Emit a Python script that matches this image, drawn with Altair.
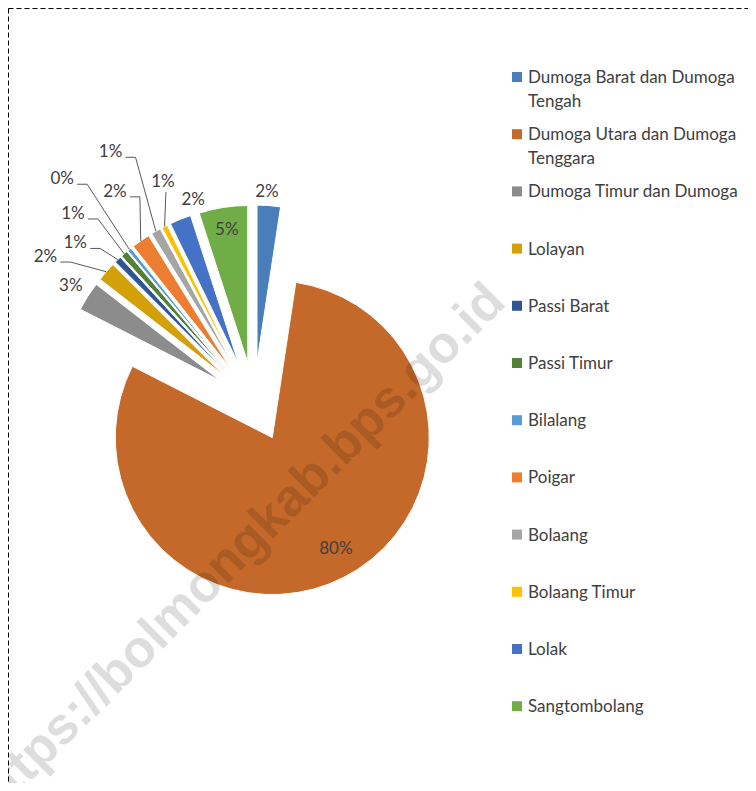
import altair as alt
import pandas as pd

# ---------------- data ----------------
names = ["Dumoga Barat dan Dumoga Tengah", "Dumoga Utara dan Dumoga Tenggara",
         "Dumoga Timur dan Dumoga", "Lolayan", "Passi Barat", "Passi Timur",
         "Bilalang", "Poigar", "Bolaang", "Bolaang Timur", "Lolak", "Sangtombolang"]
values = [2.4, 80.1, 3.0, 2.0, 0.7, 0.7, 0.4, 1.9, 1.0, 0.6, 2.2, 5.0]
legend_labels = ["Dumoga Barat dan Dumoga\nTengah", "Dumoga Utara dan Dumoga\nTenggara",
                 "Dumoga Timur dan Dumoga", "Lolayan", "Passi Barat", "Passi Timur",
                 "Bilalang", "Poigar", "Bolaang", "Bolaang Timur", "Lolak", "Sangtombolang"]
colors = ["#4A7EBB", "#C5692A", "#8C8C8C", "#D4A007", "#2F5597", "#548235",
          "#5B9BD5", "#ED7D31", "#A5A5A5", "#FFC000", "#4472C4", "#70AD47"]

# label layout (distance from pie centre, angular nudge in degrees, leader style)
label_dist = [210, 168, 217, 254, 239, 261, 294, 252, 288, 238, 211, 174]
label_nudge = [-0.8, -2.0, 0.0, -6.6, -4.7, -2.7, -1.5, 1.6, 0.0, 4.5, 5.2, 0.0]
leader = ["none", "none", "none", "side", "side", "side", "side", "side", "side",
          "below", "none", "none"]

# ---------------- layout ----------------
W, H = 740, 775
CX, CY = 246, 394     # pie centre
R = 157               # pie radius
EXPLODE = 40          # explosion distance
FONT = "Lato"
TXT = "#404040"

df = pd.DataFrame({"idx": list(range(len(names))), "name": names, "value": values,
                   "ldist": label_dist, "lnudge": label_nudge, "leader": leader})

base = (alt.Chart(df)
        .transform_joinaggregate(total="sum(value)")
        .transform_window(cum="sum(value)", sort=[{"field": "idx"}], frame=[None, 0])
        .transform_calculate(
            t0="(datum.cum - datum.value) / datum.total * 2 * PI",
            t1="datum.cum / datum.total * 2 * PI",
            pct="datum.value / datum.total")
        .transform_calculate(mid="(datum.t0 + datum.t1) / 2")
        .transform_calculate(
            cx=f"{CX} + {EXPLODE} * sin(datum.mid)",
            cy=f"{CY} - {EXPLODE} * cos(datum.mid)",
            la="datum.mid + datum.lnudge * PI / 180")
        .transform_calculate(
            px=f"datum.cx + {R} * sin(datum.mid)",
            py=f"datum.cy - {R} * cos(datum.mid)",
            lx=f"{CX} + datum.ldist * sin(datum.la)",
            ly=f"{CY} - datum.ldist * cos(datum.la)")
        .transform_calculate(
            sx="datum.leader == 'below' ? datum.lx + 3 : datum.lx + 15",
            sy="datum.leader == 'below' ? datum.ly + 10 : datum.ly + 5",
            ex="datum.leader == 'below' ? datum.lx + 3 : datum.lx + 25"))

color_scale = alt.Scale(domain=names, range=colors)

pie = base.mark_arc(outerRadius=R, stroke="white", strokeWidth=1).encode(
    theta=alt.Theta("t0:Q", scale=None, stack=None),
    theta2="t1:Q",
    x=alt.X("cx:Q", scale=None, axis=None),
    y=alt.Y("cy:Q", scale=None, axis=None),
    color=alt.Color("name:N", scale=color_scale, legend=None),
    order=alt.Order("idx:Q"),
)

labels = base.mark_text(font=FONT, fontSize=17, color=TXT, align="center",
                        baseline="middle").encode(
    x=alt.X("lx:Q", scale=None, axis=None),
    y=alt.Y("ly:Q", scale=None, axis=None),
    text=alt.Text("pct:Q", format=".0%"),
)

lead1 = base.transform_filter("datum.leader != 'none'").mark_rule(
    color="#595959", strokeWidth=1).encode(
    x=alt.X("sx:Q", scale=None, axis=None), x2="ex:Q",
    y=alt.Y("sy:Q", scale=None, axis=None), y2="sy:Q")

lead2 = base.transform_filter("datum.leader != 'none'").mark_rule(
    color="#595959", strokeWidth=1).encode(
    x=alt.X("ex:Q", scale=None, axis=None), x2="px:Q",
    y=alt.Y("sy:Q", scale=None, axis=None), y2="py:Q")

# ---------------- legend ----------------
leg_rows = []
for i, lab in enumerate(legend_labels):
    for j, line in enumerate(lab.split("\n")):
        leg_rows.append({"i": i, "j": j, "line": line, "name": names[i]})
leg_df = pd.DataFrame(leg_rows)

LEG_TOP, LEG_STEP, LEG_LINE = 69, 57.2, 24
leg_base = alt.Chart(leg_df).transform_calculate(
    ly=f"{LEG_TOP} + datum.i * {LEG_STEP} + datum.j * {LEG_LINE}")

leg_sq = leg_base.transform_filter("datum.j == 0").mark_square(size=100, opacity=1).encode(
    x=alt.value(509),
    y=alt.Y("ly:Q", scale=None, axis=None),
    color=alt.Color("name:N", scale=color_scale, legend=None),
)
leg_txt = leg_base.mark_text(font=FONT, fontSize=17, color=TXT, align="left",
                             baseline="middle", dy=1).encode(
    x=alt.value(520),
    y=alt.Y("ly:Q", scale=None, axis=None),
    text="line:N",
)

# ---------------- watermark & border ----------------
wm = alt.Chart(pd.DataFrame({"t": ["https://bolmongkab.bps.go.id"]})).mark_text(
    font="Liberation Sans", fontWeight="bold", fontSize=52, angle=315,
    color="#000000", opacity=0.13, align="center", baseline="middle").encode(
    x=alt.value(231), y=alt.value(542), text="t:N")

border_df = pd.DataFrame({"x": [0.5, 0.5], "y": [0.5, 0.5], "x2": [0.5, 745], "y2": [H, 0.5]})
border = alt.Chart(border_df).mark_rule(color="#000000", strokeWidth=1,
                                        strokeDash=[5, 3]).encode(
    x=alt.X("x:Q", scale=None, axis=None), x2="x2:Q",
    y=alt.Y("y:Q", scale=None, axis=None), y2="y2:Q")

chart = alt.layer(border, pie, lead1, lead2, labels, leg_sq, leg_txt, wm).properties(
    width=W, height=H, padding=0, autosize=alt.AutoSizeParams(type="none"),
    background="white",
).configure_view(stroke=None)

chart.save("out.html", embed_options={"renderer": "svg", "actions": False})
